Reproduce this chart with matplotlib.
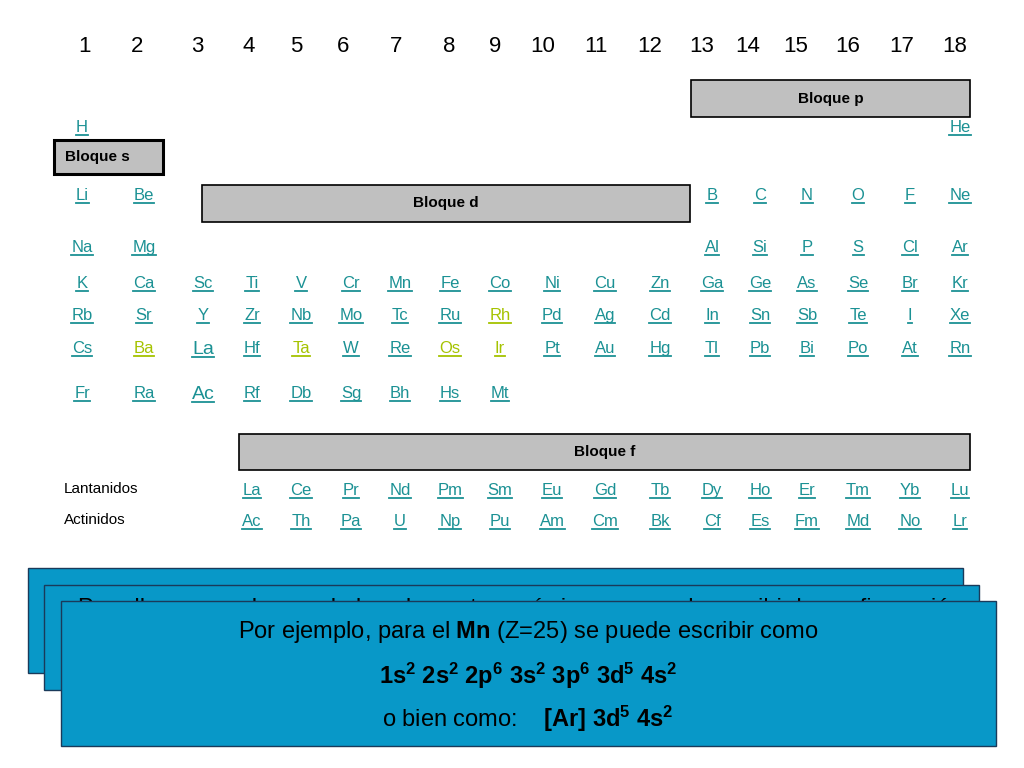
import matplotlib
matplotlib.use("Agg")
import matplotlib.pyplot as plt
from matplotlib.patches import Rectangle

plt.rcParams["font.family"] = "Liberation Sans"
plt.rcParams["mathtext.fontset"] = "custom"
plt.rcParams["mathtext.rm"] = "Liberation Sans"
plt.rcParams["mathtext.bf"] = "Liberation Sans:bold"
plt.rcParams["mathtext.it"] = "Liberation Sans:italic"

groups = [str(i) for i in range(1, 19)]
group_x = [84, 137, 197, 249, 296, 343, 396, 449, 495, 543, 596, 650, 702, 748, 796, 848, 902, 955]
col_x = [82, 144, 203, 252, 301, 351, 400, 450, 500, 552, 605, 660, 712, 760, 807, 858, 910, 960]
row_y = [132, 200, 252, 288, 320, 353, 398]
periods = [
    {1: "H", 18: "He"},
    {1: "Li", 2: "Be", 13: "B", 14: "C", 15: "N", 16: "O", 17: "F", 18: "Ne"},
    {1: "Na", 2: "Mg", 13: "Al", 14: "Si", 15: "P", 16: "S", 17: "Cl", 18: "Ar"},
    dict(zip(range(1, 19), ["K", "Ca", "Sc", "Ti", "V", "Cr", "Mn", "Fe", "Co", "Ni", "Cu", "Zn", "Ga", "Ge", "As", "Se", "Br", "Kr"])),
    dict(zip(range(1, 19), ["Rb", "Sr", "Y", "Zr", "Nb", "Mo", "Tc", "Ru", "Rh", "Pd", "Ag", "Cd", "In", "Sn", "Sb", "Te", "I", "Xe"])),
    dict(zip(range(1, 19), ["Cs", "Ba", "La", "Hf", "Ta", "W", "Re", "Os", "Ir", "Pt", "Au", "Hg", "Tl", "Pb", "Bi", "Po", "At", "Rn"])),
    dict(zip(range(1, 10), ["Fr", "Ra", "Ac", "Rf", "Db", "Sg", "Bh", "Hs", "Mt"])),
]
lanthanides = ["La", "Ce", "Pr", "Nd", "Pm", "Sm", "Eu", "Gd", "Tb", "Dy", "Ho", "Er", "Tm", "Yb", "Lu"]
actinides = ["Ac", "Th", "Pa", "U", "Np", "Pu", "Am", "Cm", "Bk", "Cf", "Es", "Fm", "Md", "No", "Lr"]
f_y = [495, 526]
highlighted = {"Ba", "Ta", "Os", "Rh", "Ir"}
big = {"La", "Ac"}

TEAL = "#1b9194"
LIME = "#a5c300"
GRAY = "#c0c0c0"
BLUE = "#0898c8"

fig = plt.figure(figsize=(10.24, 7.68), dpi=100)
ax = fig.add_axes([0, 0, 1, 1])
ax.set_xlim(0, 1024)
ax.set_ylim(768, 0)
ax.axis("off")

for g, x in zip(groups, group_x):
    ax.text(x, 46, g, fontsize=16, ha="center", va="center")

labels = []
def elem(x, y, s, big_font=False):
    t = ax.text(x, y, s, fontsize=14 if big_font else 12, ha="center", va="baseline",
                color=LIME if s in highlighted else TEAL)
    labels.append(t)

for y, per in zip(row_y, periods):
    for g, s in per.items():
        elem(col_x[g - 1], y + (1 if (s in big and g == 3) else 0), s, (s in big and g == 3))
for y, row in zip(f_y, [lanthanides, actinides]):
    for i, s in enumerate(row):
        elem(col_x[i + 3], y, s)

ax.text(64, 489, "Lantanidos", fontsize=11, va="center")
ax.text(64, 520, "Actinidos", fontsize=11, va="center")

def block(x0, y0, x1, y1, label, lw=1.2, left=None):
    ax.add_patch(Rectangle((x0, y0), x1 - x0, y1 - y0, fc=GRAY, ec="black", lw=lw))
    if left is None:
        ax.text((x0 + x1) / 2, (y0 + y1) / 2, label, fontsize=11, weight="bold", ha="center", va="center")
    else:
        ax.text(left, (y0 + y1) / 2, label, fontsize=11, weight="bold", ha="left", va="center")

block(691, 80, 970, 117, "Bloque p")
block(54, 140, 163, 174, "Bloque s", lw=2.2, left=65)
block(202, 185, 690, 222, "Bloque d")
block(239, 434, 970, 470, "Bloque f")

# underlines
fig.canvas.draw()
r = fig.canvas.get_renderer()
inv = ax.transData.inverted()
for t in labels:
    bb = t.get_window_extent(r)
    (x0, _), (x1, _) = inv.transform([(bb.x0, bb.y0), (bb.x1, bb.y1)])
    yb = t.get_position()[1] + 3
    ax.plot([x0, x1], [yb, yb], color=t.get_color(), lw=1.3)

# blue boxes
ax.add_patch(Rectangle((28, 568), 935, 105, fc=BLUE, ec="#1a3a5a", lw=1, zorder=3))
ax.add_patch(Rectangle((44, 585), 935, 105, fc=BLUE, ec="#1a3a5a", lw=1, zorder=4))
ax.text(78, 609, "Para llegar a cada uno de los elementos químicos se puede escribir la configuración",
        fontsize=17, ha="left", va="center", zorder=4.5)
ax.add_patch(Rectangle((61, 601), 935, 145, fc=BLUE, ec="#1a3a5a", lw=1, zorder=5))
cx = 528
ax.text(cx, 632, r"Por ejemplo, para el $\mathbf{Mn}$ (Z=25) se puede escribir como",
        fontsize=17, ha="center", va="center", zorder=6)
ax.text(cx, 676, r"$\mathbf{1s^2\ 2s^2\ 2p^6\ 3s^2\ 3p^6\ 3d^5\ 4s^2}$",
        fontsize=17, ha="center", va="center", zorder=6)
ax.text(cx, 719, r"o bien como:    $\mathbf{[Ar]\ 3d^5\ 4s^2}$",
        fontsize=17, ha="center", va="center", zorder=6)

fig.savefig("out.png", dpi=100)
